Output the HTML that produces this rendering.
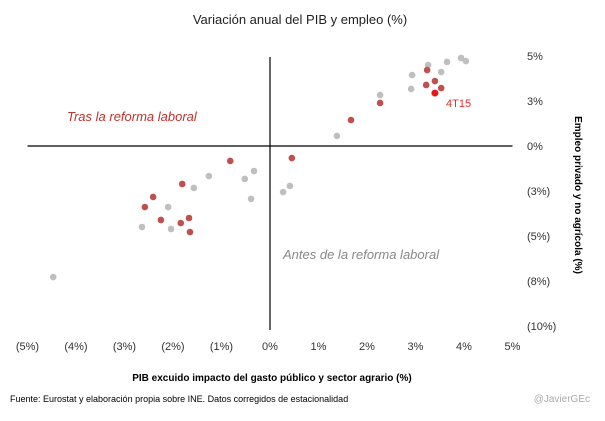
<!DOCTYPE html>
<html><head><meta charset="utf-8"><style>
body{margin:0;background:#fff;width:605px;height:416px;overflow:hidden;font-family:"Liberation Sans",sans-serif}
</style></head><body>
<svg id="chart" width="605" height="416" xmlns="http://www.w3.org/2000/svg" font-family="Liberation Sans, sans-serif">
<text x="300" y="24" text-anchor="middle" font-size="13" fill="#222">Variación anual del PIB y empleo (%)</text>
<g id="axes"></g>
<g id="dots"></g>
<text x="67" y="121" font-size="13" font-style="italic" fill="#c0312b">Tras la reforma laboral</text>
<text x="283" y="259" font-size="13" font-style="italic" fill="#888">Antes de la reforma laboral</text>
<text x="446" y="107" font-size="11" fill="#e0302a">4T15</text>
<text transform="translate(575,195) rotate(90)" text-anchor="middle" font-size="10" font-weight="bold" fill="#000">Empleo  privado y no agrícola (%)</text>
<text x="272" y="381" text-anchor="middle" font-size="10" font-weight="bold" fill="#000">PIB excuido impacto del gasto público y sector agrario (%)</text>
<text x="10" y="402" font-size="9" fill="#000">Fuente: Eurostat y elaboración propia sobre INE. Datos corregidos de estacionalidad</text>
<text x="590" y="402" text-anchor="end" font-size="10" fill="#aaa">@JavierGEc</text>
</svg>
<script>
const xTicks=[-5,-4,-3,-2,-1,0,1,2,3,4,5];
const xTickLabels=["(5%)","(4%)","(3%)","(2%)","(1%)","0%","1%","2%","3%","4%","5%"];
const yTicks=[5,2.5,0,-2.5,-5,-7.5,-10];
const yTickLabels=["5%","3%","0%","(3%)","(5%)","(8%)","(10%)"];
const redX=[-0.82,0.45,-1.81,-2.41,-2.58,-2.25,-1.67,-1.84,-1.65,3.24,3.22,3.40,3.53,2.27,1.67];
const redY=[-0.83,-0.67,-2.11,-2.83,-3.39,-4.11,-4.0,-4.28,-4.78,4.22,3.39,3.61,3.22,2.39,1.44];
const grayX=[-1.26,-0.33,-0.52,-1.57,-0.39,-2.10,-2.64,-2.04,-4.47,0.27,0.41,3.94,4.04,3.65,3.26,3.53,2.93,2.91,2.27,1.38];
const grayY=[-1.67,-1.39,-1.83,-2.33,-2.94,-3.39,-4.5,-4.61,-7.28,-2.56,-2.22,4.89,4.72,4.67,4.5,4.11,3.94,3.17,2.83,0.56];
const lastX=[3.40];
const lastY=[2.94];
const X=v=>270+v*48.5;
const Y=v=>146-v*18;
const NS="http://www.w3.org/2000/svg";
const axes=document.getElementById('axes');
const dots=document.getElementById('dots');
function mk(tag,attrs,parent){const e=document.createElementNS(NS,tag);for(const k in attrs)e.setAttribute(k,attrs[k]);parent.appendChild(e);return e;}
let l=mk('line',{x1:X(-5),x2:X(5),y1:Y(0),y2:Y(0),stroke:'#000','stroke-width':1.2},axes);


l=mk('line',{x1:X(0),x2:X(0),y1:57,y2:Y(-10)+4,stroke:'#000','stroke-width':1.2},axes);


xTicks.forEach((t,i)=>{const e=mk('text',{x:X(t),y:350,'text-anchor':'middle','font-size':11,fill:'#333'},axes);e.textContent=xTickLabels[i];

});
yTicks.forEach((t,i)=>{const e=mk('text',{x:527,y:Y(t)+4,'font-size':11,fill:'#333'},axes);e.textContent=yTickLabels[i];

});
grayX.forEach((v,i)=>{const c=mk('circle',{cx:X(v),cy:Y(grayY[i]),r:3.3,fill:'#bfbfbf'},dots);

});
redX.forEach((v,i)=>{const c=mk('circle',{cx:X(v),cy:Y(redY[i]),r:3.3,fill:'#c0504d'},dots);

});
lastX.forEach((v,i)=>{const c=mk('circle',{cx:X(v),cy:Y(lastY[i]),r:3.5,fill:'#e8161b'},dots);

});
</script>
</body></html>
